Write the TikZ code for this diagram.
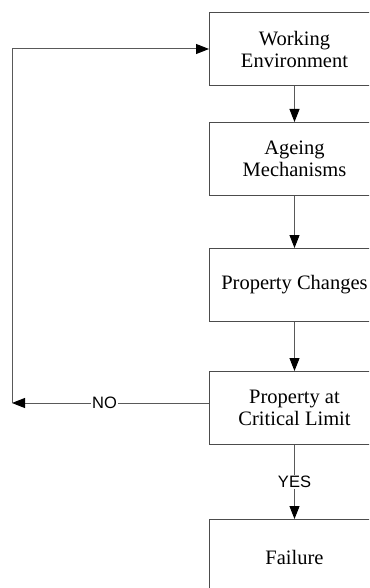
\documentclass[tikz,border=0pt]{standalone}
\usepackage{fontspec}
\setmainfont{Liberation Serif}
\newfontfamily\labfont{Liberation Sans}
\usetikzlibrary{arrows.meta}
\begin{document}
\begin{tikzpicture}[x=1pt,y=1pt,
  box/.style={draw=black!70, line width=1pt, minimum width=170pt, minimum height=73pt, inner sep=0pt, align=center, font=\fontsize{20.5}{22}\selectfont, anchor=north west},
  conn/.style={draw=black!65, line width=1pt, -{Triangle[length=13pt,width=10pt,color=black]}},
  lab/.style={fill=white, inner sep=1pt, font=\labfont\fontsize{16.5}{18}\selectfont}]
\useasboundingbox (0,0) rectangle (369,-588);
\clip (0,0) rectangle (369,-588);
\node[box] (w) at (209,-12) {Working\\Environment};
\node[box] (a) at (209,-122) {Ageing\\Mechanisms};
\node[box] (p) at (209,-248) {Property Changes};
\node[box] (c) at (209,-371) {Property at\\Critical Limit};
\node[box, minimum height=76pt] (f) at (209,-519) {Failure};
\coordinate (l1) at (12,-403);
\coordinate (l2) at (12,-49);
\draw[conn] (w) -- (a);
\draw[conn] (a) -- (p);
\draw[conn] (p) -- (c);
\draw[conn] (c) -- node[lab, pos=0.5] {YES} (f);
\draw[conn] (c.west |- l1) -- node[lab, pos=0.53] {NO} (l1);
\draw[conn] (l1) -- (l2) -- (w.west |- l2);
\end{tikzpicture}
\end{document}
